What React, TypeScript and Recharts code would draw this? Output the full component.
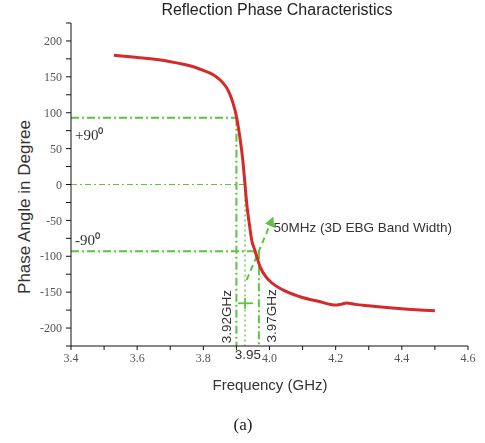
import { LineChart, Line, XAxis, YAxis, ReferenceLine, ReferenceDot } from "recharts";

// measured reflection phase (GHz, degrees)
const freq = [3.53, 3.6, 3.69, 3.77, 3.8, 3.83, 3.85, 3.87, 3.88, 3.89, 3.9, 3.91, 3.919, 3.926, 3.931, 3.94, 3.946, 3.956, 3.971, 3.99, 4.0, 4.05, 4.09, 4.15, 4.2, 4.215, 4.233, 4.26, 4.3, 4.4, 4.5];
const phase = [180, 177, 172, 164, 159, 153, 146, 135, 126, 113, 95, 67, 35, 0, -26, -58, -77, -92, -114, -129, -134, -149, -156, -163, -168, -167, -165, -167, -169, -173, -176];

const xTicks = [3.4, 3.5, 3.6, 3.7, 3.8, 3.9, 4.0, 4.1, 4.2, 4.3, 4.4, 4.5, 4.6];
const xMajor = [3.4, 3.6, 3.8, 4.0, 4.2, 4.4, 4.6];
const yTicks = [-225, -200, -175, -150, -125, -100, -75, -50, -25, 0, 25, 50, 75, 100, 125, 150, 175, 200, 225];
const yMajor = [-200, -150, -100, -50, 0, 50, 100, 150, 200];

// green guide segments: [x1, y1, x2, y2, style]
const guides: [number, number, number, number, string][] = [
  [3.4, 93, 3.9, 93, "thick"],
  [3.4, 0, 3.926, 0, "thin"],
  [3.4, -93, 3.968, -93, "thick"],
  [3.9, 93, 3.9, -225, "thick"],
  [3.926, 0, 3.926, -225, "dot"],
  [3.968, -93, 3.968, -225, "thick"],
  [3.905, -165.5, 3.95, -165.5, "bar"],
  [3.926, -158, 3.926, -173, "bar"],
];

const arrow = { x1: 3.931, y1: -133, x2: 4.006, y2: -51 };

// text notes: x, y, text, rotated, anchor, font
const notes: [number, number, string, boolean, string, string][] = [
  [3.412, 70, "+90⁰", false, "start", "serif"],
  [3.412, -77, "-90⁰", false, "start", "serif"],
  [3.868, -184, "3.92GHz", true, "middle", "sans"],
  [4.006, -183, "3.97GHz", true, "middle", "sans"],
  [3.935, -236, "3.95", false, "middle", "sans"],
  [4.012, -59, "50MHz (3D EBG Band Width)", false, "start", "sans"],
];

const data = freq.map((f, i) => ({ f, p: phase[i] }));

const GREEN = "#5cc43e";
const RED = "#d42a2a";
const SANS = "'Liberation Sans', Arial, sans-serif";
const SERIF = "'Liberation Serif', 'Times New Roman', serif";

const styleOf = (s: string) => {
  if (s === "thick") return { strokeWidth: 2, strokeDasharray: "8 3 2 3" };
  if (s === "thin") return { strokeWidth: 1.2, strokeDasharray: "6 3 2 3" };
  if (s === "dot") return { strokeWidth: 1.3, strokeDasharray: "2 3" };
  return { strokeWidth: 1.8 };
};

const XTick = (props: any) => {
  const { x, y, payload } = props;
  if (!xMajor.some((v) => Math.abs(v - payload.value) < 1e-6)) return null;
  return (
    <text x={x} y={y} dy="0.71em" textAnchor="middle" fontSize={12} fill="#555" fontFamily={SERIF}>
      {payload.value.toFixed(1)}
    </text>
  );
};

const YTick = (props: any) => {
  const { x, y, payload } = props;
  if (!yMajor.includes(payload.value)) return null;
  return (
    <text x={x} y={y} dy="0.35em" textAnchor="end" fontSize={12} fill="#555" fontFamily={SERIF}>
      {payload.value}
    </text>
  );
};

const ArrowShape = (props: any) => {
  const { x1, y1, x2, y2 } = props;
  return (
    <g>
      <defs>
        <marker id="ah" markerWidth="5" markerHeight="5" refX="2.5" refY="2.5" orient="auto" markerUnits="strokeWidth">
          <path d="M0,0 L5,2.5 L0,5 Z" fill={GREEN} />
        </marker>
      </defs>
      <line x1={x1} y1={y1} x2={x2} y2={y2} stroke={GREEN} strokeWidth={2} strokeDasharray="6 4" markerEnd="url(#ah)" />
    </g>
  );
};

export default function App() {
  return (
    <div style={{ position: "fixed", left: 0, top: 0, width: 485, height: 443, background: "#fff" }}>
      <div style={{ position: "absolute", left: 0, width: 554, top: 0, textAlign: "center", fontFamily: SANS, fontSize: 16, color: "#222", lineHeight: "20px" }}>
        Reflection Phase Characteristics
      </div>
      <div
        style={{
          position: "absolute",
          left: 25,
          top: 207,
          transform: "translate(-50%, -50%) rotate(-90deg)",
          whiteSpace: "nowrap",
          fontFamily: SANS,
          fontSize: 17,
          color: "#333",
        }}
      >
        Phase Angle in Degree
      </div>
      <div style={{ position: "absolute", left: 0, width: 540, top: 376, textAlign: "center", fontFamily: SANS, fontSize: 15, color: "#333" }}>
        Frequency (GHz)
      </div>
      <div style={{ position: "absolute", left: 0, width: 486, top: 415, textAlign: "center", fontFamily: SERIF, fontSize: 17, color: "#222" }}>
        (a)
      </div>
      <LineChart width={485} height={443} data={data} margin={{ top: 23, right: 17, bottom: 67, left: 21 }}>
        <XAxis
          dataKey="f"
          type="number"
          domain={[3.4, 4.6]}
          ticks={xTicks}
          interval={0}
          height={30}
          tick={<XTick />}
          tickSize={4}
          tickMargin={3}
          stroke="#111"
          allowDataOverflow
        />
        <YAxis
          type="number"
          domain={[-225, 225]}
          ticks={yTicks}
          interval={0}
          width={50}
          tick={<YTick />}
          tickSize={5}
          tickMargin={4}
          stroke="#111"
          allowDataOverflow
        />
        {guides.map(([ax, ay, bx, by, s], i) => (
          <ReferenceLine
            key={"g" + i}
            segment={[{ x: ax, y: ay }, { x: bx, y: by }]}
            stroke={GREEN}
            ifOverflow="visible"
            {...styleOf(s)}
          />
        ))}
        <ReferenceLine
          segment={[{ x: arrow.x1, y: arrow.y1 }, { x: arrow.x2, y: arrow.y2 }]}
          ifOverflow="visible"
          shape={<ArrowShape />}
        />
        <Line type="monotone" dataKey="p" stroke={RED} strokeWidth={3} dot={false} isAnimationActive={false} />
        {notes.map(([nx, ny, t, rot, anchor, font], i) => (
          <ReferenceDot
            key={"n" + i}
            x={nx}
            y={ny}
            r={1}
            ifOverflow="visible"
            shape={(p: any) => (
              <text
                x={p.cx}
                y={p.cy}
                dy="0.35em"
                textAnchor={anchor}
                transform={rot ? `rotate(-90 ${p.cx} ${p.cy})` : undefined}
                fontFamily={font === "serif" ? SERIF : SANS}
                fontSize={font === "serif" ? 15 : 13.5}
                fill="#333"
              >
                {t}
              </text>
            )}
          />
        ))}
      </LineChart>
    </div>
  );
}
